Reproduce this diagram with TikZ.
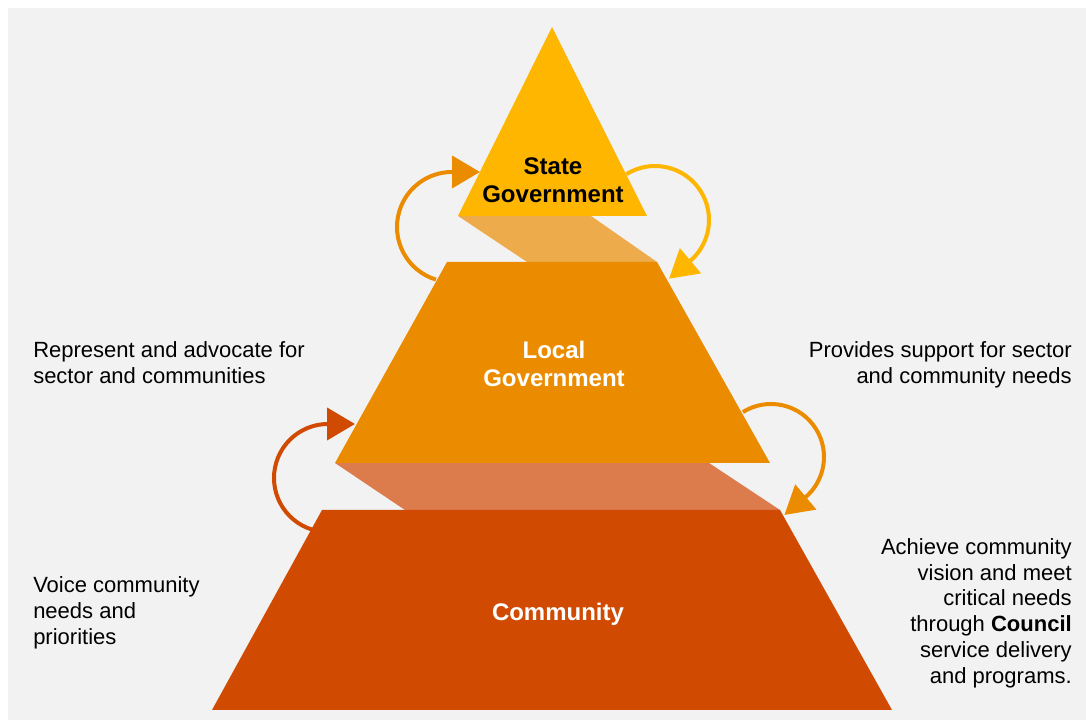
\documentclass[tikz,border=0pt]{standalone}
\usepackage{fontspec}
\setmainfont{Liberation Sans}
\usetikzlibrary{arrows.meta}
\definecolor{bggray}{HTML}{F2F2F2}
\definecolor{stateclr}{HTML}{FFB600}
\definecolor{localclr}{HTML}{EB8C00}
\definecolor{commclr}{HTML}{D04A02}
\definecolor{bandone}{HTML}{EDAB4C}
\definecolor{bandtwo}{HTML}{DC7B4C}
\begin{document}
\begin{tikzpicture}[x=0.75pt,y=0.75pt,
  sidetext/.style={font=\fontsize{16.5}{19.4}\selectfont, inner sep=0pt, text=black},
  lvl/.style={font=\fontsize{18}{21}\selectfont\bfseries, inner sep=0pt, align=center},
  loop/.style={line width=3pt, -{Triangle[length=21pt,width=24pt]}}]
\useasboundingbox (0,0) rectangle (1086,720);
\fill[white] (0,0) rectangle (1086,720);
\fill[bggray] (8,0) rectangle (1086,712);

% centres of the loop arrows
\coordinate (c1) at (452,493);
\coordinate (c2) at (655,500);
\coordinate (c3) at (328,242);
\coordinate (c4) at (771,263);

% loop arrows (drawn below the shapes)
\draw[loop, localclr] (c1) ++(-107:55) arc[start angle=-107, end angle=-270, radius=55] -- ++(28,0);
\draw[loop, stateclr] (c2) ++(122:54) arc[start angle=122, end angle=-50, radius=54] -- ++(-140:27);
\draw[loop, commclr] (c3) ++(-107:54) arc[start angle=-107, end angle=-270, radius=54] -- ++(27,0);
\draw[loop, localclr] (c4) ++(122:53) arc[start angle=122, end angle=-50, radius=53] -- ++(-140:27);

% pyramid
\fill[bandone] (458,504) -- (591,504) -- (657,458) -- (527,458) -- cycle;
\fill[bandtwo] (335,257) -- (709,257) -- (780,210) -- (405,210) -- cycle;
\fill[stateclr] (552,693) -- (647,504) -- (458,504) -- cycle;
\fill[localclr] (447,458) -- (657,458) -- (770,257) -- (335,257) -- cycle;
\fill[commclr] (322,210) -- (780,210) -- (892,10) -- (212,10) -- cycle;

% level labels
\node[lvl, text=black] (state) at (553,539.5) {State\\Government};
\node[lvl, text=white] (local) at (554,356.5) {Local\\Government};
\node[lvl, text=white] (comm) at (558,106) {Community};

% side texts
\node[sidetext, anchor=north west, align=left] (rep) at (33,378.5) {Represent and advocate for\\sector and communities};
\node[sidetext, anchor=north east, align=right] (prov) at (1072,378.5) {Provides support for sector\\and community needs};
\node[sidetext, anchor=north west, align=left] (voice) at (33,143.5) {Voice community\\needs and\\priorities};
\node[sidetext, anchor=north east, align=right] (ach) at (1072,182) {Achieve community\\vision and meet\\critical needs\\through \textbf{Council}\\service delivery\\and programs.};
\end{tikzpicture}
\end{document}
